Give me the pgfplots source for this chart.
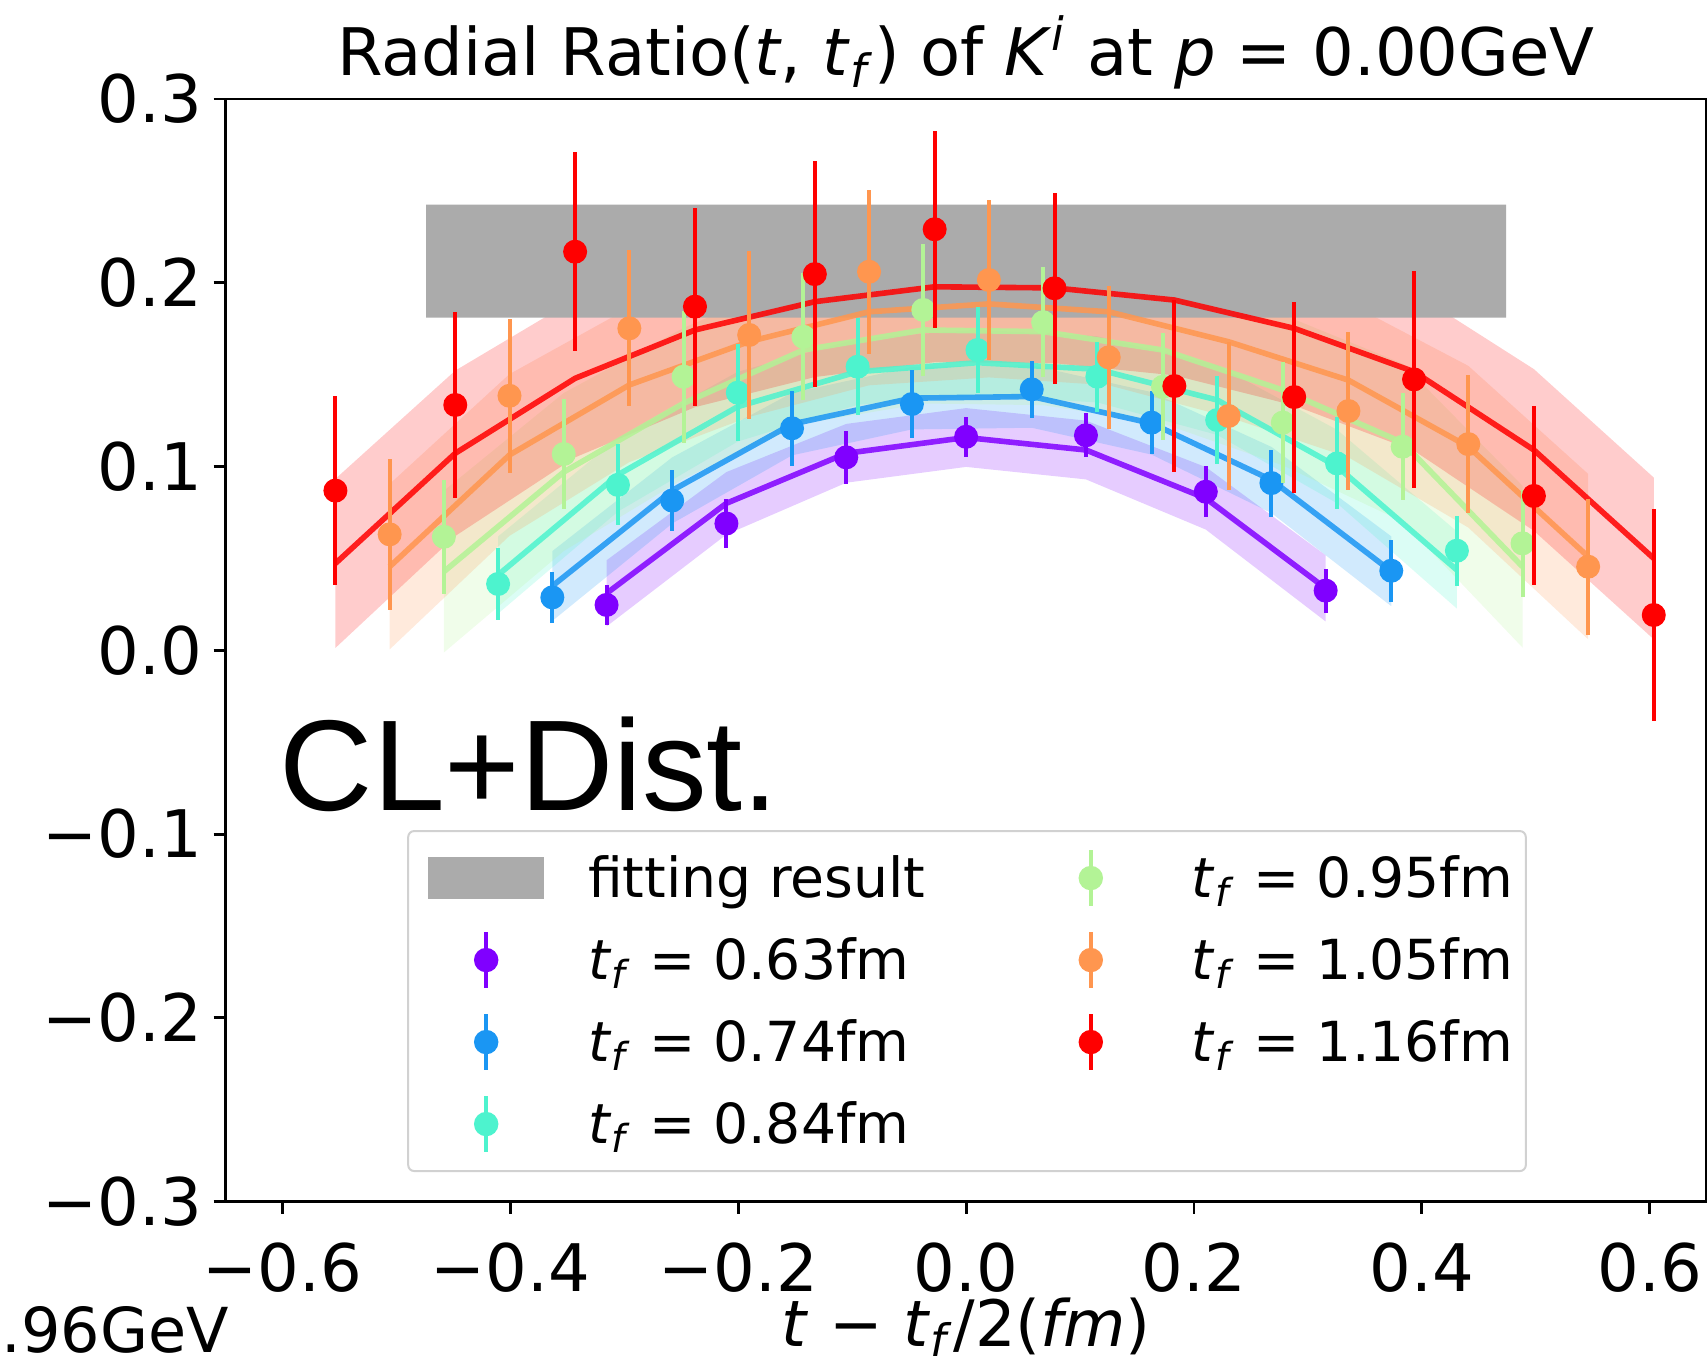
\documentclass[border=0pt]{standalone}
\usepackage{pgfplots}
\pgfplotsset{compat=1.18}
\usepackage{pgfplotstable}
\usepgfplotslibrary{fillbetween}
\usepackage{fontspec}
\setmainfont{DejaVu Sans}
\newfontfamily\clfont{Liberation Sans}

\definecolor{cP}{HTML}{8000FF}
\definecolor{cB}{HTML}{1A96F3}
\definecolor{cC}{HTML}{4DF3CE}
\definecolor{cG}{HTML}{B3F396}
\definecolor{cO}{HTML}{FF964F}
\definecolor{cR}{HTML}{FF0000}
\definecolor{fitgray}{HTML}{ABABAB}

\newcommand{\tf}{\textit{t}\textsubscript{\textit{f}}}

% columns: x, point y, error, fit line, band low, band high
\pgfplotstableread{
x y e f lo hi
-0.3156 0.0247 0.011 0.031 0.013 0.049
-0.2104 0.069 0.0135 0.080 0.063 0.097
-0.1052 0.105 0.0143 0.1072 0.0912 0.1232
0 0.1162 0.011 0.1158 0.0998 0.1318
0.1052 0.117 0.012 0.109 0.093 0.125
0.2104 0.0863 0.014 0.0827 0.0657 0.0997
0.3156 0.0325 0.012 0.0337 0.0157 0.0517
}\tabP
\pgfplotstableread{
x y e f lo hi
-0.3632 0.0288 0.014 0.0350 0.016 0.054
-0.258 0.0815 0.0167 0.087 0.069 0.105
-0.1528 0.1208 0.0204 0.1231 0.1061 0.1401
-0.0476 0.134 0.0186 0.1372 0.1202 0.1542
0.0576 0.142 0.0154 0.1381 0.1211 0.1551
0.1628 0.1239 0.0172 0.1235 0.1065 0.1405
0.268 0.091 0.0182 0.0927 0.0747 0.1107
0.3732 0.0433 0.017 0.0430 0.024 0.062
}\tabB
\pgfplotstableread{
x y e f lo hi
-0.4108 0.0361 0.0196 0.041 0.020 0.062
-0.3056 0.090 0.022 0.0955 0.0755 0.1155
-0.2004 0.1402 0.0263 0.1326 0.1136 0.1516
-0.0952 0.1543 0.0263 0.1516 0.1336 0.1696
0.01 0.1634 0.0233 0.1565 0.1385 0.1745
0.1152 0.1489 0.019 0.1529 0.1349 0.1709
0.2204 0.1253 0.0238 0.1362 0.1172 0.1552
0.3256 0.1017 0.025 0.100 0.080 0.120
0.4308 0.0542 0.019 0.0437 0.0227 0.0647
}\tabC
\pgfplotstableread{
x y e f lo hi
-0.4584 0.0618 0.031 0.0428 -0.0012 0.0868
-0.3532 0.1068 0.0297 0.097 0.054 0.140
-0.248 0.1489 0.036 0.1344 0.0934 0.1754
-0.1428 0.1706 0.0345 0.1634 0.1234 0.2034
-0.0376 0.1852 0.036 0.1743 0.1343 0.2143
0.0676 0.1785 0.030 0.1734 0.1334 0.2134
0.1728 0.1434 0.029 0.1634 0.1234 0.2034
0.278 0.1239 0.033 0.1416 0.1006 0.1826
0.3832 0.1108 0.029 0.113 0.070 0.156
0.4884 0.0582 0.029 0.0455 0.0015 0.0895
}\tabG
\pgfplotstableread{
x y e f lo hi
-0.506 0.0631 0.041 0.0455 0.0005 0.0905
-0.4008 0.1385 0.042 0.1063 0.0623 0.1503
-0.2956 0.1752 0.0425 0.1444 0.1024 0.1864
-0.1904 0.1716 0.0458 0.168 0.127 0.209
-0.0852 0.206 0.0446 0.1842 0.1442 0.2242
0.02 0.2015 0.0438 0.1885 0.1485 0.2285
0.1252 0.1594 0.039 0.1842 0.1442 0.2242
0.2304 0.1275 0.040 0.1679 0.1269 0.2089
0.3356 0.1302 0.043 0.147 0.105 0.189
0.4408 0.1122 0.0376 0.1108 0.0668 0.1548
0.546 0.0455 0.037 0.051 0.006 0.096
}\tabO
\pgfplotstableread{
x y e f lo hi
-0.5536 0.0869 0.0513 0.0473 0.0013 0.0933
-0.4484 0.1335 0.0508 0.1072 0.0622 0.1522
-0.3432 0.2169 0.054 0.148 0.105 0.191
-0.238 0.187 0.0538 0.1743 0.1323 0.2163
-0.1328 0.2047 0.0615 0.1897 0.1487 0.2307
-0.0276 0.2291 0.0535 0.1978 0.1568 0.2388
0.0776 0.197 0.052 0.1972 0.1562 0.2382
0.1828 0.1438 0.0467 0.1906 0.1496 0.2316
0.288 0.1378 0.052 0.1752 0.1332 0.2172
0.3932 0.1474 0.059 0.1516 0.1086 0.1946
0.4984 0.084 0.0487 0.109 0.065 0.153
0.6036 0.0192 0.0578 0.050 0.006 0.094
}\tabR

\newcommand{\band}[3]{%
  \addplot[name path=#3h, draw=none, forget plot] table[x=x,y=hi]{#1};
  \addplot[name path=#3l, draw=none, forget plot] table[x=x,y=lo]{#1};
  \addplot[fill=#2, fill opacity=0.2, draw=none, forget plot] fill between[of=#3h and #3l];
  \addplot[#2, line width=1.4pt, draw opacity=0.85, forget plot] table[x=x,y=f]{#1};
}
\newcommand{\pts}[2]{%
  \addplot[#2, only marks, mark=*, mark size=2.8pt, forget plot,
    error bars/.cd, y dir=both, y explicit, error mark=none,
    error bar style={line width=1pt, solid}] table[x=x,y=y,y error=e]{#1};
}
\pgfplotsset{errleg/.style={legend image code/.code={%
  \path[draw=none, fill=none] (-14.25pt,0pt) -- (14.25pt,0pt);
  \draw[line width=1pt] (0pt,-6.9pt) -- (0pt,6.9pt);
  \fill (0pt,0pt) circle (2.8pt);}}}

\begin{document}
\begin{tikzpicture}
\begin{axis}[
  name=ax,
  scale only axis,
  width=370.25pt, height=275.67pt,
  xmin=-0.65, xmax=0.65, ymin=-0.3, ymax=0.3,
  xtick={-0.6,-0.4,-0.2,0,0.2,0.4,0.6},
  xticklabels={−0.6,−0.4,−0.2,0.0,0.2,0.4,0.6},
  ytick={-0.3,-0.2,-0.1,0,0.1,0.2,0.3},
  yticklabels={−0.3,−0.2,−0.1,0.0,0.1,0.2,0.3},
  tick pos=left,
  tick align=outside, major tick length=3pt,
  tick style={line width=0.7pt, black},
  axis line style={line width=0.7pt},
  ticklabel style={font=\fontsize{16.4}{19}\selectfont},
  xticklabel style={yshift=-3.7pt},
  yticklabel style={xshift=0.7pt},
  title={Radial Ratio(\textit{t}, \tf) of \textit{K}\textsuperscript{\textit{i}} at \textit{p} = 0.00GeV},
  title style={at={(axis description cs:0.5,1)}, anchor=base, yshift=-0.25pt,
    font=\fontsize{16.4}{20}\selectfont, inner sep=0pt},
  xlabel={\textit{t} − \tf/2(\textit{fm})},
  xlabel style={at={(axis description cs:0.5,0)}, anchor=base, yshift=-36.1pt,
    font=\fontsize{16}{19}\selectfont, inner sep=0pt},
  clip mode=individual,
  legend columns=2,
  legend style={at={(axis cs:-0.4906,-0.0978)}, anchor=north west,
    draw=black!18, line width=0.5pt, fill=white, rounded corners=1.5pt,
    inner xsep=5pt, inner ysep=3.5pt,
    column sep=9pt, row sep=4pt,
    font=\fontsize{13.8}{16}\selectfont,
    nodes={inner sep=2pt, text height=11pt, text depth=1.5pt},
    cells={anchor=west}},
]
\addplot[fill=fitgray, draw=none, forget plot] coordinates
  {(-0.474,0.181) (0.474,0.181) (0.474,0.2425) (-0.474,0.2425) (-0.474,0.181)};

\band{\tabP}{cP}{p}
\band{\tabB}{cB}{b}
\band{\tabC}{cC}{c}
\band{\tabG}{cG}{g}
\band{\tabO}{cO}{o}
\band{\tabR}{cR}{r}

\pts{\tabP}{cP}
\pts{\tabB}{cB}
\pts{\tabC}{cC}
\pts{\tabG}{cG}
\pts{\tabO}{cO}
\pts{\tabR}{cR}

\node[anchor=base west, inner sep=0pt, font=\clfont\fontsize{32.3}{36}\selectfont]
  at (axis cs:-0.6032,-0.0874) {CL+Dist.};

\addlegendimage{legend image code/.code={\fill[fitgray, sharp corners] (-14.25pt,-5.1pt) rectangle (14.25pt,5.1pt);}}
\addlegendentry{\makebox[100.4pt][l]{fitting result}}
\addlegendimage{cG, errleg}
\addlegendentry{\makebox[76.5pt][l]{\tf{} = 0.95fm}}
\addlegendimage{cP, errleg}
\addlegendentry{\makebox[100.4pt][l]{\tf{} = 0.63fm}}
\addlegendimage{cO, errleg}
\addlegendentry{\makebox[76.5pt][l]{\tf{} = 1.05fm}}
\addlegendimage{cB, errleg}
\addlegendentry{\makebox[100.4pt][l]{\tf{} = 0.74fm}}
\addlegendimage{cR, errleg}
\addlegendentry{\makebox[76.5pt][l]{\tf{} = 1.16fm}}
\addlegendimage{cC, errleg}
\addlegendentry{\makebox[100.4pt][l]{\tf{} = 0.84fm}}
\end{axis}
\node[anchor=base east, inner sep=0pt, font=\fontsize{15.5}{18}\selectfont]
  at ([shift={(1pt,-37.6pt)}]ax.south west) {.96GeV};
\pgfresetboundingbox
\useasboundingbox ([shift={(-56.4pt,-40.1pt)}]ax.south west) rectangle ([shift={(0.1pt,24.75pt)}]ax.north east);
\end{tikzpicture}
\end{document}
